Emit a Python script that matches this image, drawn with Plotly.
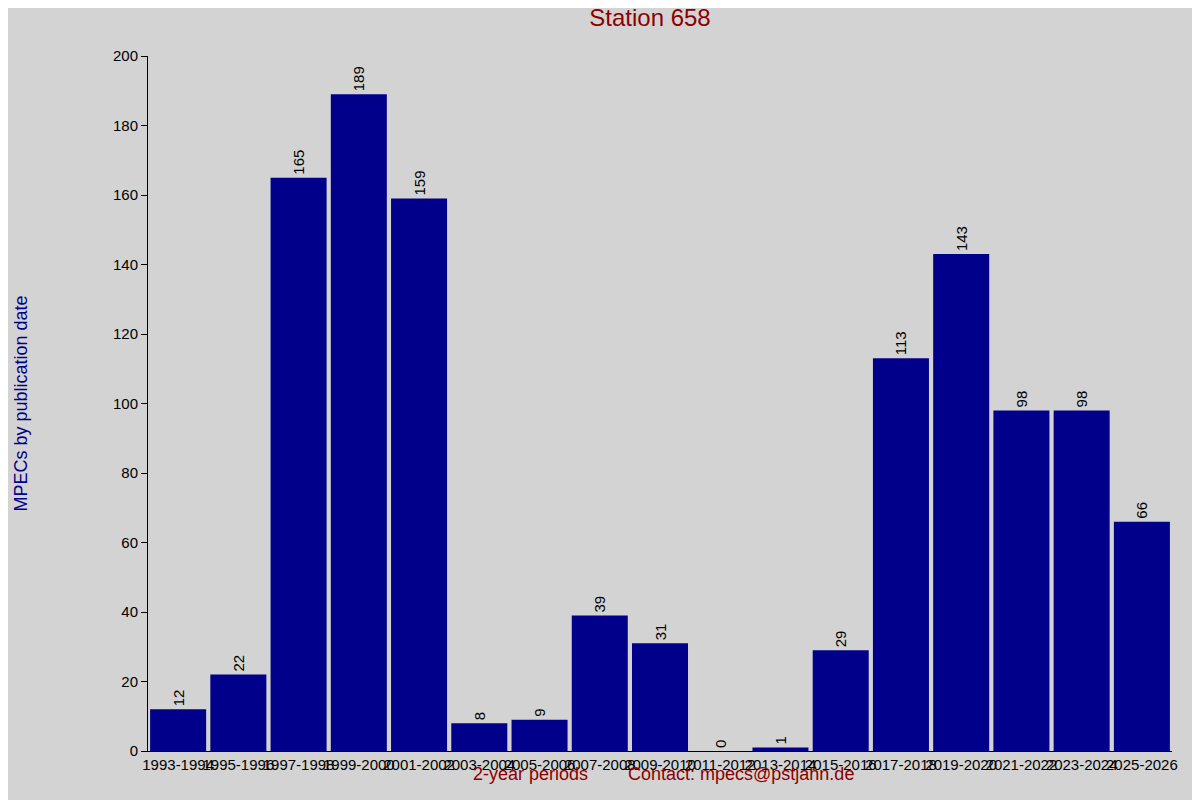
import plotly.graph_objects as go

periods = ["1993-1994","1995-1996","1997-1998","1999-2000","2001-2002","2003-2004","2005-2006",
           "2007-2008","2009-2010","2011-2012","2013-2014","2015-2016","2017-2018","2019-2020",
           "2021-2022","2023-2024","2025-2026"]
values = [12,22,165,189,159,8,9,39,31,0,1,29,113,143,98,98,66]

fig = go.Figure(go.Bar(x=periods, y=values, marker=dict(color="#00008b", line_width=0),
                       text=[str(v) for v in values], textposition="outside", textangle=-90,
                       textfont=dict(color="black", size=15), cliponaxis=False))
fig.update_layout(
    width=1200, height=800, paper_bgcolor="#d3d3d3", plot_bgcolor="#d3d3d3",
    margin=dict(l=118, r=36, t=48, b=57), bargap=0.07,
    font=dict(family="Liberation Sans, Arial", size=14, color="black"),
    title=dict(text="Station 658", x=0.535, xanchor="center", y=0.9875, yanchor="middle",
               font=dict(color="#8b0000", size=24)),
    showlegend=False,
)
fig.update_xaxes(showline=True, linecolor="black", ticks="", showgrid=False, tickangle=0,
                 tickfont=dict(size=15))
fig.update_yaxes(range=[0,200], dtick=20, showline=True, linecolor="black", ticks="outside",
                 ticklen=6, tickcolor="black", showgrid=False, zeroline=False,
                 tickfont=dict(size=15),
                 title=dict(text="MPECs by publication date", font=dict(color="#00008b", size=18), standoff=80))
fig.add_annotation(text="2-year periods", x=(517-126)/1046, y=-(786-751)/695,
                   xref="paper", yref="paper", showarrow=False, font=dict(color="#8b0000", size=18))
fig.add_annotation(text="Contact: mpecs@pstjahn.de", x=(732-126)/1046, y=-(786-751)/695,
                   xref="paper", yref="paper", showarrow=False, font=dict(color="#8b0000", size=18))
fig.write_html("out.html")
